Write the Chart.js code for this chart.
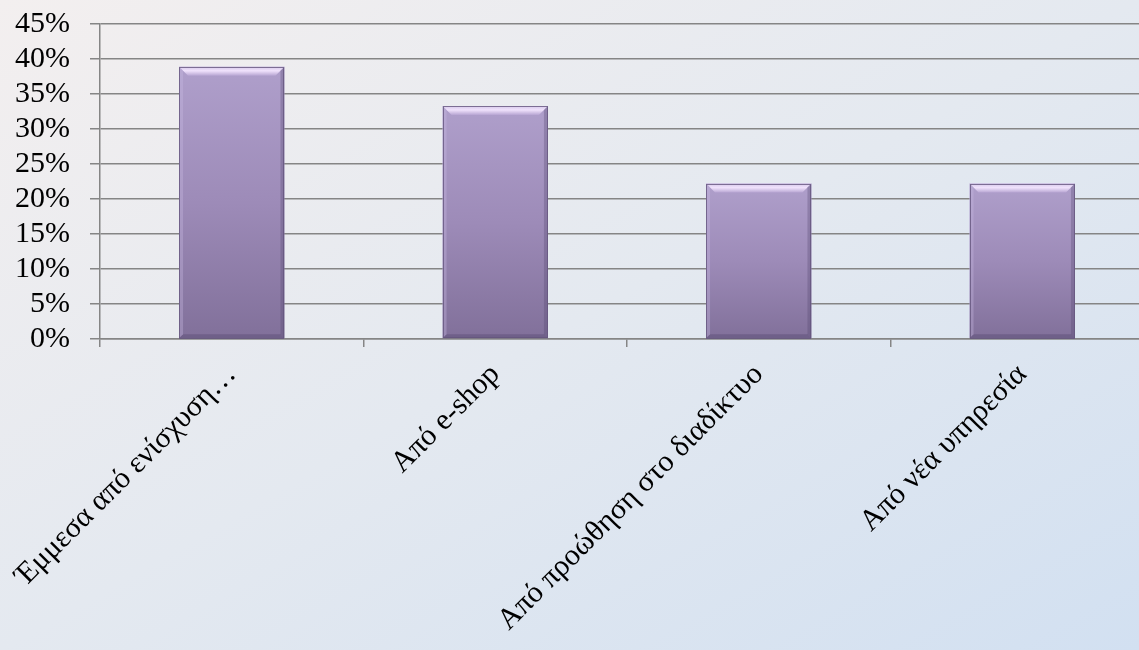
<!DOCTYPE html>
<html lang="el">
<head>
<meta charset="utf-8">
<title>Chart</title>
<script src="https://cdn.jsdelivr.net/npm/chart.js@4.4.1/dist/chart.umd.min.js"></script>
<style>
  html, body { margin: 0; padding: 0; overflow: hidden; }
  body {
    width: 1139px;
    height: 650px;
    background: linear-gradient(to bottom right, #f3efef 0%, #e4e9f0 50%, #d2e0f1 100%);
  }
  .wrap { position: relative; width: 1154px; height: 650px; }
</style>
</head>
<body>
<div class="wrap"><canvas id="chart"></canvas></div>
<script>
'use strict';

// ── Data ─────────────────────────────────────────────────────────────────────

const categories = [
  'Έμμεσα από ενίσχυση…',
  'Από e-shop',
  'Από προώθηση στο διαδίκτυο',
  'Από νέα υπηρεσία',
];

const shares = [38.9, 33.3, 22.2, 22.2];

const yMin = 0;
const yMax = 45;
const yStep = 5;

const FONT = '"Liberation Serif", "Times New Roman", serif';

// ── Bar fill: per-bar vertical gradient ──────────────────────────────────────

function barFill(ctx) {
  const chart = ctx.chart;
  const y = chart.scales.y;
  if (!y || ctx.parsed == null) return '#9c8bb8';
  const top = y.getPixelForValue(ctx.parsed.y);
  const bot = y.getPixelForValue(0);
  if (!isFinite(top) || !isFinite(bot) || top === bot) return '#9c8bb8';
  const g = chart.ctx.createLinearGradient(0, top, 0, bot);
  g.addColorStop(0, '#af9fcb');
  g.addColorStop(0.5, '#9d8bb8');
  g.addColorStop(1, '#81709a');
  return g;
}

// Bevelled top and soft edges, drawn from the bar elements' own geometry
const bevelPlugin = {
  id: 'bevel',
  afterDatasetsDraw(chart) {
    const c = chart.ctx;
    chart.getDatasetMeta(0).data.forEach(bar => {
      const { x, y, width, base } = bar.getProps(['x', 'y', 'width', 'base'], true);
      const l = x - width / 2, r = x + width / 2, b = 9, s = 4;
      c.save();
      // top bevel
      const tg = c.createLinearGradient(0, y, 0, y + b);
      tg.addColorStop(0, '#d6c8ea');
      tg.addColorStop(0.45, '#f0e2fc');
      tg.addColorStop(1, '#b8a6d3');
      c.fillStyle = tg;
      c.beginPath();
      c.moveTo(l, y); c.lineTo(r, y); c.lineTo(r - b, y + b); c.lineTo(l + b, y + b);
      c.closePath(); c.fill();
      // left edge
      c.fillStyle = 'rgba(200,185,225,0.35)';
      c.beginPath();
      c.moveTo(l, y); c.lineTo(l + s, y + s); c.lineTo(l + s, base - s); c.lineTo(l, base);
      c.closePath(); c.fill();
      // right edge
      c.fillStyle = 'rgba(80,65,105,0.3)';
      c.beginPath();
      c.moveTo(r, y); c.lineTo(r - s, y + s); c.lineTo(r - s, base - s); c.lineTo(r, base);
      c.closePath(); c.fill();
      // bottom edge
      c.fillStyle = 'rgba(70,55,95,0.3)';
      c.beginPath();
      c.moveTo(l, base); c.lineTo(l + s, base - s); c.lineTo(r - s, base - s); c.lineTo(r, base);
      c.closePath(); c.fill();
      // outline
      c.strokeStyle = 'rgba(100,85,125,0.8)';
      c.lineWidth = 1;
      c.strokeRect(Math.round(l) + 0.5, Math.round(y) + 0.5, Math.round(width) - 1, Math.round(base - y) - 1);
      c.restore();
    });
  },
};

// ── Chart ────────────────────────────────────────────────────────────────────

new Chart(document.getElementById('chart').getContext('2d'), {
  type: 'bar',
  data: {
    labels: categories,
    datasets: [{
      data: shares,
      backgroundColor: barFill,
      borderWidth: 0,
      categoryPercentage: 1,
      barPercentage: 0.4,
    }],
  },
  options: {
    responsive: true,
    maintainAspectRatio: false,
    animation: false,
    layout: { padding: { top: 24, left: 0, right: 0, bottom: 0 } },
    plugins: {
      legend: { display: false },
      tooltip: { enabled: false },
    },
    scales: {
      x: {
        afterFit: scale => {
          scale.height = 311;
          scale.paddingTop = 0;
          scale.paddingLeft = 0;
          scale.paddingRight = 0;
        },
        grid: {
          offset: true,
          drawOnChartArea: false,
          color: '#858585',
          tickLength: 8,
          lineWidth: 1.5,
        },
        border: { color: '#858585', width: 1.5 },
        ticks: {
          color: '#000',
          font: { family: FONT, size: 30 },
          maxRotation: 45,
          minRotation: 45,
          autoSkip: false,
          padding: 10,
        },
      },
      y: {
        min: yMin,
        max: yMax,
        afterFit: scale => { scale.width = 100; scale.paddingTop = 0; scale.paddingBottom = 0; },
        grid: {
          color: '#858585',
          lineWidth: 1.5,
          tickLength: 10,
        },
        border: { color: '#858585', width: 1.5 },
        ticks: {
          color: '#000',
          font: { family: FONT, size: 30 },
          stepSize: yStep,
          autoSkip: false,
          padding: 20,
          callback: v => v + '%',
        },
      },
    },
  },
  plugins: [bevelPlugin],
});
</script>
</body>
</html>
